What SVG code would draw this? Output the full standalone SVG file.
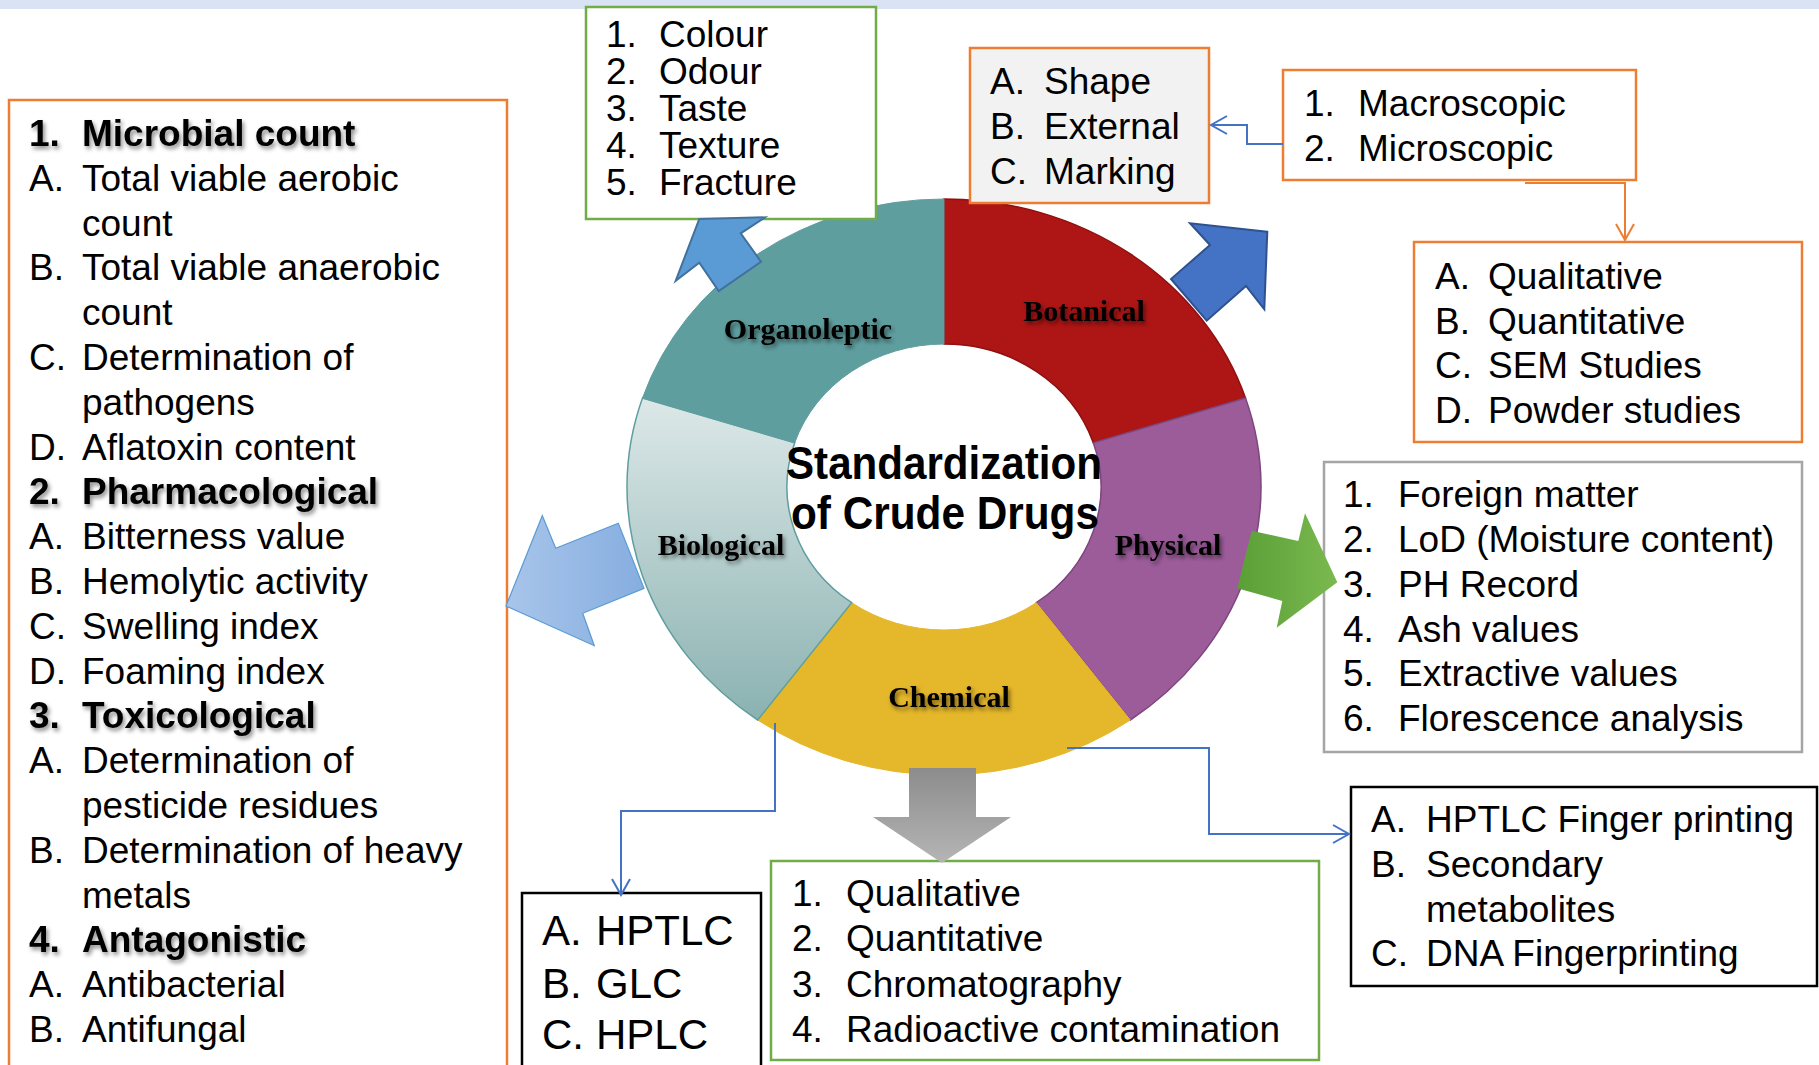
<svg xmlns="http://www.w3.org/2000/svg" width="1819" height="1065" viewBox="0 0 1819 1065">
<defs>
<style>
.t{font-family:"Liberation Sans",Arial,sans-serif;font-size:37px;fill:#000}
.b{font-weight:bold;filter:url(#sh)}
.seg{font-family:"Liberation Serif","Times New Roman",serif;font-weight:bold;font-size:30px;fill:#000;text-anchor:middle;filter:url(#sh2)}
.title{font-family:"Liberation Sans",Arial,sans-serif;font-weight:bold;font-size:46px;fill:#000;text-anchor:middle}
.box{fill:#fff;stroke-width:2.5}
.or{stroke:#ed7d31}
.gr{stroke:#70ad47}
.gy{stroke:#a5a5a5}
.bk{stroke:#000}
.con{fill:none;stroke-width:2}
</style>
<filter id="sh" x="-10%" y="-30%" width="130%" height="180%">
<feDropShadow dx="2" dy="3" stdDeviation="2" flood-color="#000" flood-opacity="0.45"/>
</filter>
<filter id="sh2" x="-10%" y="-30%" width="130%" height="180%">
<feDropShadow dx="2" dy="3" stdDeviation="2" flood-color="#000" flood-opacity="0.5"/>
</filter>
<linearGradient id="bio" x1="0" y1="0" x2="0" y2="1">
<stop offset="0" stop-color="#dde8e8"/>
<stop offset="1" stop-color="#8ab2b1"/>
</linearGradient>
<linearGradient id="lb" x1="0" y1="0" x2="1" y2="0">
<stop offset="0" stop-color="#a8c5ea"/>
<stop offset="1" stop-color="#86aee0"/>
</linearGradient>
<linearGradient id="grn" x1="0" y1="0" x2="1" y2="0">
<stop offset="0" stop-color="#5a9f36"/>
<stop offset="1" stop-color="#7ab950"/>
</linearGradient>
<linearGradient id="gry" x1="0" y1="0" x2="0" y2="1">
<stop offset="0" stop-color="#8c8c8c"/>
<stop offset="1" stop-color="#b5b5b5"/>
</linearGradient>
<marker id="mb" viewBox="0 0 20 20" refX="18" refY="10" markerWidth="20" markerHeight="20" markerUnits="userSpaceOnUse" orient="auto">
<path d="M2,1 L18,10 L2,19" fill="none" stroke="#4472c4" stroke-width="2"/>
</marker>
<marker id="mo" viewBox="0 0 20 20" refX="18" refY="10" markerWidth="20" markerHeight="20" markerUnits="userSpaceOnUse" orient="auto">
<path d="M2,1 L18,10 L2,19" fill="none" stroke="#ed7d31" stroke-width="2"/>
</marker>
</defs>

<rect x="0" y="0" width="1819" height="9" fill="#dae3f3"/>

<g id="donut">
<path id="seg-botanical" d="M944,199 A317,288 0 0 1 1245.5,398 L1093.3,442.8 A157,143 0 0 0 944,344 Z" fill="#ae1515" stroke="#8e1010" stroke-width="1.5"/>
<path id="seg-physical" d="M1245.5,398 A317,288 0 0 1 1130.3,720 L1036.3,602.7 A157,143 0 0 0 1093.3,442.8 Z" fill="#9c5c9a" stroke="#7e467c" stroke-width="1.5"/>
<path id="seg-chemical" d="M1130.3,720 A317,288 0 0 1 757.7,720 L851.7,602.7 A157,143 0 0 0 1036.3,602.7 Z" fill="#e5b72a" stroke="#e5b72a" stroke-width="1"/>
<path id="seg-biological" d="M757.7,720 A317,288 0 0 1 642.5,398 L794.7,442.8 A157,143 0 0 0 851.7,602.7 Z" fill="url(#bio)" stroke="#5f9e9f" stroke-width="1.5"/>
<path id="seg-organoleptic" d="M642.5,398 A317,288 0 0 1 944,199 L944,344 A157,143 0 0 0 794.7,442.8 Z" fill="#5f9e9f" stroke="#5f9e9f" stroke-width="1"/>
<text class="seg" x="808" y="339">Organoleptic</text>
<text class="seg" x="1084" y="321">Botanical</text>
<text class="seg" x="1168" y="555">Physical</text>
<text class="seg" x="721" y="555">Biological</text>
<text class="seg" x="949" y="707">Chemical</text>
<text class="title" x="944" y="479" textLength="316" lengthAdjust="spacingAndGlyphs">Standardization</text>
<text class="title" x="945" y="529" textLength="308" lengthAdjust="spacingAndGlyphs">of Crude Drugs</text>
</g>

<g id="node-biological-tests">
<rect class="box or" x="9" y="100" width="498" height="980"/>
<text class="t b" x="29" y="146">1.</text><text class="t b" x="82" y="146">Microbial count</text>
<text class="t" x="29" y="190.8">A.</text><text class="t" x="82" y="190.8">Total viable aerobic</text>
<text class="t" x="82" y="235.6">count</text>
<text class="t" x="29" y="280.4">B.</text><text class="t" x="82" y="280.4">Total viable anaerobic</text>
<text class="t" x="82" y="325.2">count</text>
<text class="t" x="29" y="370">C.</text><text class="t" x="82" y="370">Determination of</text>
<text class="t" x="82" y="414.8">pathogens</text>
<text class="t" x="29" y="459.6">D.</text><text class="t" x="82" y="459.6">Aflatoxin content</text>
<text class="t b" x="29" y="504.4">2.</text><text class="t b" x="82" y="504.4">Pharmacological</text>
<text class="t" x="29" y="549.2">A.</text><text class="t" x="82" y="549.2">Bitterness value</text>
<text class="t" x="29" y="594">B.</text><text class="t" x="82" y="594">Hemolytic activity</text>
<text class="t" x="29" y="638.8">C.</text><text class="t" x="82" y="638.8">Swelling index</text>
<text class="t" x="29" y="683.6">D.</text><text class="t" x="82" y="683.6">Foaming index</text>
<text class="t b" x="29" y="728.4">3.</text><text class="t b" x="82" y="728.4">Toxicological</text>
<text class="t" x="29" y="773.2">A.</text><text class="t" x="82" y="773.2">Determination of</text>
<text class="t" x="82" y="818">pesticide residues</text>
<text class="t" x="29" y="862.8">B.</text><text class="t" x="82" y="862.8">Determination of heavy</text>
<text class="t" x="82" y="907.6">metals</text>
<text class="t b" x="29" y="952.4">4.</text><text class="t b" x="82" y="952.4">Antagonistic</text>
<text class="t" x="29" y="997.2">A.</text><text class="t" x="82" y="997.2">Antibacterial</text>
<text class="t" x="29" y="1042">B.</text><text class="t" x="82" y="1042">Antifungal</text>
</g>

<g id="node-organoleptic-tests">
<rect class="box gr" x="586" y="7" width="290" height="212"/>
<text class="t" x="606" y="47">1.</text><text class="t" x="659" y="47">Colour</text>
<text class="t" x="606" y="84">2.</text><text class="t" x="659" y="84">Odour</text>
<text class="t" x="606" y="121">3.</text><text class="t" x="659" y="121">Taste</text>
<text class="t" x="606" y="158">4.</text><text class="t" x="659" y="158">Texture</text>
<text class="t" x="606" y="195">5.</text><text class="t" x="659" y="195">Fracture</text>
</g>

<g id="node-botanical-features">
<rect class="box or" x="970" y="48" width="239" height="155" style="fill:#f2f2f2"/>
<text class="t" x="990" y="94">A.</text><text class="t" x="1044" y="94">Shape</text>
<text class="t" x="990" y="139">B.</text><text class="t" x="1044" y="139">External</text>
<text class="t" x="990" y="184">C.</text><text class="t" x="1044" y="184">Marking</text>
</g>

<g id="node-botanical-types">
<rect class="box or" x="1283" y="70" width="353" height="110"/>
<text class="t" x="1304" y="116">1.</text><text class="t" x="1358" y="116">Macroscopic</text>
<text class="t" x="1304" y="161">2.</text><text class="t" x="1358" y="161">Microscopic</text>
</g>

<g id="node-microscopic-studies">
<rect class="box or" x="1414" y="242" width="388" height="200"/>
<text class="t" x="1435" y="289">A.</text><text class="t" x="1488" y="289">Qualitative</text>
<text class="t" x="1435" y="333.5">B.</text><text class="t" x="1488" y="333.5">Quantitative</text>
<text class="t" x="1435" y="378">C.</text><text class="t" x="1488" y="378">SEM Studies</text>
<text class="t" x="1435" y="422.5">D.</text><text class="t" x="1488" y="422.5">Powder studies</text>
</g>

<g id="node-physical-tests">
<rect class="box gy" x="1324" y="462" width="478" height="290"/>
<text class="t" x="1343" y="507">1.</text><text class="t" x="1398" y="507">Foreign matter</text>
<text class="t" x="1343" y="552">2.</text><text class="t" x="1398" y="552">LoD (Moisture content)</text>
<text class="t" x="1343" y="596.5">3.</text><text class="t" x="1398" y="596.5">PH Record</text>
<text class="t" x="1343" y="641.5">4.</text><text class="t" x="1398" y="641.5">Ash values</text>
<text class="t" x="1343" y="686">5.</text><text class="t" x="1398" y="686">Extractive values</text>
<text class="t" x="1343" y="731">6.</text><text class="t" x="1398" y="731">Florescence analysis</text>
</g>

<g id="node-fingerprinting">
<rect class="box bk" x="1351" y="787" width="466" height="199"/>
<text class="t" x="1371" y="832">A.</text><text class="t" x="1426" y="832">HPTLC Finger printing</text>
<text class="t" x="1371" y="877">B.</text><text class="t" x="1426" y="877">Secondary</text>
<text class="t" x="1426" y="922">metabolites</text>
<text class="t" x="1371" y="966">C.</text><text class="t" x="1426" y="966">DNA Fingerprinting</text>
</g>

<g id="node-chemical-tests">
<rect class="box gr" x="771" y="861" width="548" height="199"/>
<text class="t" x="792" y="906">1.</text><text class="t" x="846" y="906">Qualitative</text>
<text class="t" x="792" y="951">2.</text><text class="t" x="846" y="951">Quantitative</text>
<text class="t" x="792" y="996.5">3.</text><text class="t" x="846" y="996.5">Chromatography</text>
<text class="t" x="792" y="1042">4.</text><text class="t" x="846" y="1042">Radioactive contamination</text>
</g>

<g id="node-chromatography">
<rect class="box bk" x="522" y="893" width="239" height="190"/>
<text class="t" x="542" y="945" style="font-size:42px">A.</text><text class="t" x="596" y="945" style="font-size:42px">HPTLC</text>
<text class="t" x="542" y="997.5" style="font-size:42px">B.</text><text class="t" x="596" y="997.5" style="font-size:42px">GLC</text>
<text class="t" x="542" y="1048.5" style="font-size:42px">C.</text><text class="t" x="596" y="1048.5" style="font-size:42px">HPLC</text>
</g>

<g id="block-arrows">
<polygon id="arrow-organoleptic" points="699.3,219 765,217.3 740.7,233.3 761,261.7 718.7,291 699.3,262.7 675.7,280.7" fill="#5b9bd5" stroke="#41719c" stroke-width="2" stroke-linejoin="miter"/>
<polygon id="arrow-botanical" points="1267.3,231.7 1190,223.3 1210,245 1171,279 1206.7,320.7 1246,286 1264.3,309.3" fill="#4472c4" stroke="#2f528f" stroke-width="2"/>
<polygon id="arrow-biological" points="506,606 542.3,515.7 555.7,548.3 618.3,523.3 644,588.3 582.7,613.3 594.3,645.7" fill="url(#lb)" stroke="#5b9bd5" stroke-width="1.2"/>
<polygon id="arrow-physical" points="1337.3,582.3 1305,513.3 1298.3,541 1251.7,530.7 1237.3,588.3 1282.3,601 1276.7,627.7" fill="url(#grn)"/>
<polygon id="arrow-chemical" points="909,768 976,768 976,817 1011,817 942,863 873,817 909,817" fill="url(#gry)"/>
</g>

<g id="connectors">
<polyline class="con" points="1283,144 1247,144 1247,125 1211,125" stroke="#4472c4" marker-end="url(#mb)"/>
<polyline class="con" points="1525,183 1625,183 1625,240" stroke="#ed7d31" stroke-width="1.8" marker-end="url(#mo)"/>
<polyline class="con" points="775,723 775,811 621,811 621,895" stroke="#4472c4" marker-end="url(#mb)"/>
<polyline class="con" points="1067,748 1209,748 1209,834 1349,834" stroke="#4472c4" marker-end="url(#mb)"/>
</g>
</svg>
